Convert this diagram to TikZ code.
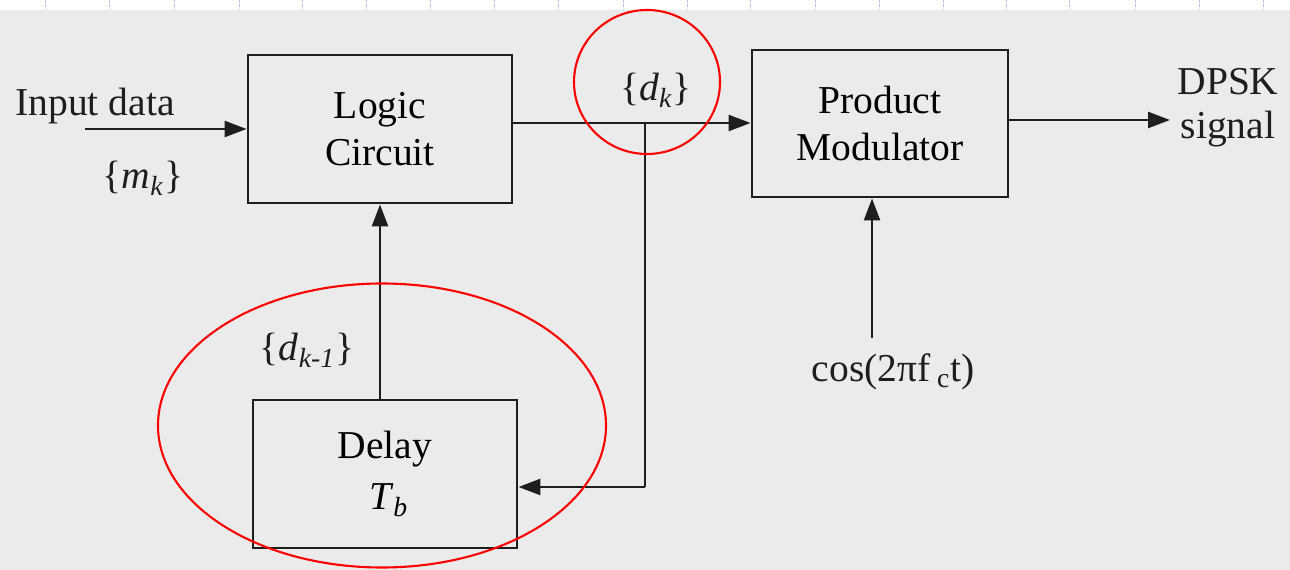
\documentclass[tikz,border=0pt]{standalone}
\usepackage{fontspec}
\setmainfont{Liberation Serif}
\usetikzlibrary{arrows.meta}
\definecolor{paper}{RGB}{235,235,235}
\definecolor{ink}{RGB}{30,30,30}
\definecolor{marks}{RGB}{185,195,240}
\newcommand{\sub}[1]{\textsubscript{#1}}
\begin{document}
\begin{tikzpicture}[x=0.02cm,y=-0.02cm,
  font=\fontsize{22.5}{27}\selectfont,
  blk/.style={draw=ink,line width=1.6pt,rectangle,align=center,inner sep=0pt},
  arr/.style={draw=ink,line width=1.6pt,-{Triangle[length=12.5pt,width=9pt]}},
  wire/.style={draw=ink,line width=1.6pt},
  lbl/.style={text=ink,inner sep=0pt,align=center},
  hl/.style={draw=red,line width=1.2pt}]
\useasboundingbox (0,0) rectangle (1290,570);
\fill[white] (0,0) rectangle (1290,10);
\fill[paper] (0,10) rectangle (1290,570);
\foreach \x in {45,109,174,239,302,366,430,494,558,623,687,750,815,879,943,1006,1069,1135,1199,1263}
  \draw[marks,line width=0.4pt,dash pattern=on 1.5pt off 1pt] (\x,0) -- (\x,10);

% blocks
\node[blk,minimum width=5.28cm,minimum height=2.96cm] (logic) at (380,129) {Logic\\Circuit};
\node[blk,minimum width=5.12cm,minimum height=2.94cm] (prod) at (880,123.5) {Product\\Modulator};
\node[blk,minimum width=5.28cm,minimum height=2.96cm] (delay) at (385,474) {Delay\\[2pt]\hspace{4pt}\textit{T}\sub{\textit{b}}};

% labels
\node[lbl] (inlbl) at (95,106) {Input data};
\node[lbl] (mk) at (143,178) {\{\textit{m}\sub{\textit{k}}\}};
\node[lbl] (dk) at (656,90) {\{\textit{d}\sub{\textit{k}}\}};
\node[lbl] (dk1) at (307,350) {\{\textit{d}\sub{\textit{k-1}}\}};
\node[lbl] (cos) at (893,372) {cos(2πf\,\sub{c}t)};
\node[lbl] (out) at (1228,108) {DPSK\\[-2pt]signal};

% connectors
\coordinate (in) at (85,129);
\draw[arr] (in) -- (logic.west);
\coordinate (br) at (645,123);
\draw[arr] (logic.east |- br) -- (prod.west |- br);
\coordinate (fb) at (645,487);
\draw[wire] (br) -- (fb);
\draw[arr] (fb) -- (delay.east |- fb);
\draw[arr] (delay.north -| logic.south) -- (logic.south);
\coordinate (cs) at (872,338);
\draw[arr] (cs) -- (prod.south -| cs);
\coordinate (o) at (1170,120);
\draw[arr] (prod.east |- o) -- (o);

% highlights
\draw[hl] (647,82) circle [x radius=73, y radius=72];
\draw[hl] (382,425.5) ellipse [x radius=224, y radius=142];
\end{tikzpicture}
\end{document}
